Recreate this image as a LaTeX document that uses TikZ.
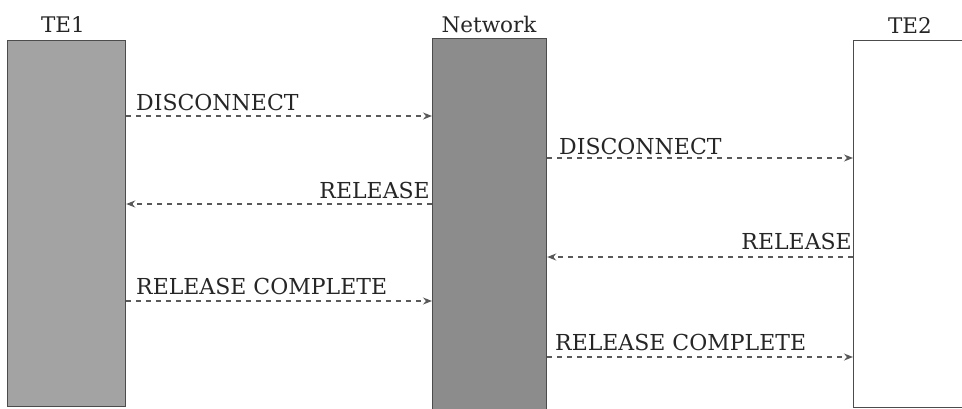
\documentclass[tikz,border=0pt]{standalone}
\usepackage{fontspec}
\setmainfont{DejaVu Serif}
\usetikzlibrary{arrows.meta}
\definecolor{barA}{gray}{0.64}
\definecolor{barB}{gray}{0.55}
\definecolor{edge}{gray}{0.30}
\definecolor{msg}{gray}{0.35}
\tikzset{
  bar/.style={draw=edge, line width=1.2pt, anchor=north west, inner sep=0pt},
  head/.style={font=\fontsize{21.5}{21.5}\selectfont, text=black!85, inner sep=0pt, anchor=base},
  lbl/.style={font=\fontsize{22}{22}\selectfont, text=black!85, inner sep=0pt},
  msgline/.style={draw=msg, line width=1.4pt, dash pattern=on 5pt off 5pt, -{Stealth[length=9pt,width=7pt]}}
}
\begin{document}
\begin{tikzpicture}[x=1pt,y=-1pt]
\useasboundingbox (0,0) rectangle (962,408);
\clip (0,0) rectangle (962,408);
% bars
\node[bar, fill=barA, minimum width=118pt, minimum height=366pt] (te1) at (7,40) {};
\node[bar, fill=barB, minimum width=114pt, minimum height=372pt] (net) at (432,38) {};
\node[bar, fill=white, minimum width=130pt, minimum height=367pt] (te2) at (853,40) {};
% headings
\node[head] (h1) at (63,32) {TE1};
\node[head] (h2) at (489,32) {Network};
\node[head] (h3) at (910,33) {TE2};
% coordinates for message rows
\coordinate (r1) at (0,116);
\coordinate (r2) at (0,204);
\coordinate (r3) at (0,301);
\coordinate (r4) at (0,158);
\coordinate (r5) at (0,257);
\coordinate (r6) at (0,357);
% messages TE1 <-> Network
\draw[msgline] (te1.east |- r1) -- (net.west |- r1);
\node[lbl, anchor=base west] (m1) at (136,110) {DISCONNECT};
\draw[msgline] (net.west |- r2) -- (te1.east |- r2);
\node[lbl, anchor=base east] (m2) at (430,198) {RELEASE};
\draw[msgline] (te1.east |- r3) -- (net.west |- r3);
\node[lbl, anchor=base west] (m3) at (136,294) {RELEASE COMPLETE};
% messages Network <-> TE2
\draw[msgline] (net.east |- r4) -- (te2.west |- r4);
\node[lbl, anchor=base west] (m4) at (559,154) {DISCONNECT};
\draw[msgline] (te2.west |- r5) -- (net.east |- r5);
\node[lbl, anchor=base east] (m5) at (852,249) {RELEASE};
\draw[msgline] (net.east |- r6) -- (te2.west |- r6);
\node[lbl, anchor=base west] (m6) at (555,350) {RELEASE COMPLETE};
\end{tikzpicture}
\end{document}
